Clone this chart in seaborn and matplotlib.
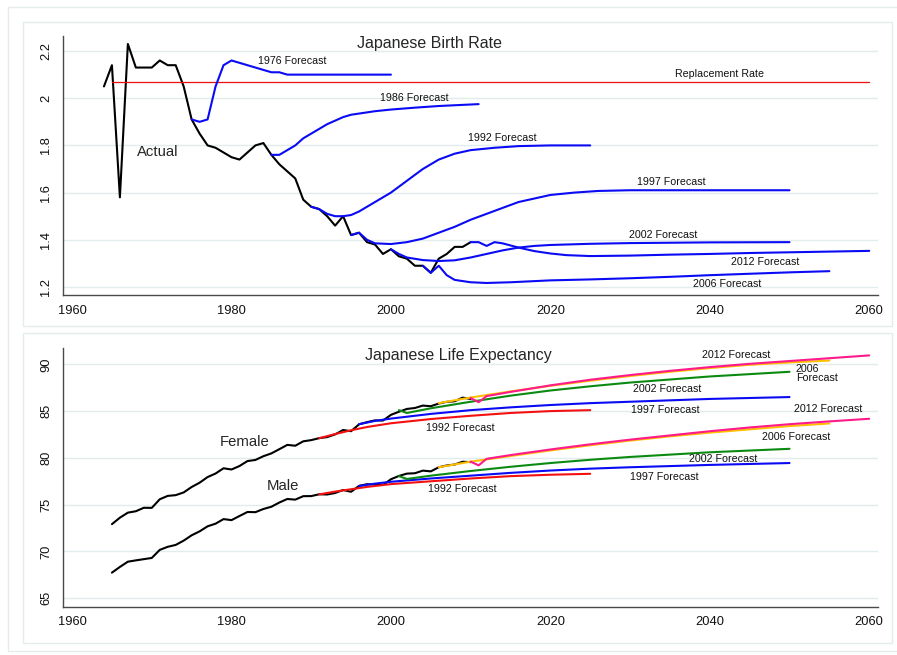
import matplotlib
matplotlib.use("Agg")
import matplotlib.pyplot as plt
from matplotlib.patches import Rectangle
import pandas as pd
import seaborn as sns

sns.set_style("white")
plt.rcParams["font.family"] = ["Liberation Sans", "DejaVu Sans"]

# ---------------- Birth rate (total fertility rate) ----------------
tfr_years = list(range(1964, 2011))
tfr_actual = [2.05, 2.14, 1.58, 2.23, 2.13, 2.13, 2.13, 2.16, 2.14, 2.14,
              2.05, 1.91, 1.85, 1.80, 1.79, 1.77, 1.75, 1.74, 1.77, 1.80,
              1.81, 1.76, 1.72, 1.69, 1.66, 1.57, 1.54, 1.53, 1.50, 1.46,
              1.50, 1.42, 1.43, 1.39, 1.38, 1.34, 1.36, 1.33, 1.32, 1.29,
              1.29, 1.26, 1.32, 1.34, 1.37, 1.37, 1.39]

replacement_years = [1965, 2060]
replacement_rate = [2.07, 2.07]

f1976_years = [1975, 1976, 1977, 1978, 1979, 1980, 1981, 1982, 1983, 1984,
               1985, 1986, 1987, 1990, 1995, 2000]
f1976 = [1.91, 1.90, 1.91, 2.05, 2.14, 2.16, 2.15, 2.14, 2.13, 2.12,
         2.11, 2.11, 2.10, 2.10, 2.10, 2.10]

f1986_years = [1985, 1986, 1987, 1988, 1989, 1990, 1991, 1992, 1993, 1994,
               1995, 1996, 1998, 2000, 2003, 2006, 2011]
f1986 = [1.76, 1.76, 1.78, 1.80, 1.83, 1.85, 1.87, 1.89, 1.905, 1.92,
         1.93, 1.935, 1.945, 1.952, 1.96, 1.967, 1.975]

f1992_years = [1990, 1991, 1992, 1993, 1994, 1995, 1996, 1997, 1998, 1999,
               2000, 2002, 2004, 2006, 2008, 2010, 2013, 2016, 2020, 2025]
f1992 = [1.54, 1.53, 1.51, 1.50, 1.50, 1.505, 1.52, 1.54, 1.56, 1.58,
         1.60, 1.65, 1.70, 1.74, 1.765, 1.78, 1.79, 1.797, 1.80, 1.80]

f1997_years = [1995, 1996, 1997, 1998, 2000, 2002, 2004, 2006, 2008, 2010,
               2012, 2014, 2016, 2018, 2020, 2023, 2026, 2030, 2040, 2050]
f1997 = [1.42, 1.43, 1.40, 1.385, 1.382, 1.39, 1.405, 1.43, 1.455, 1.485,
         1.51, 1.535, 1.56, 1.575, 1.59, 1.60, 1.607, 1.61, 1.61, 1.61]

f2002_years = [2000, 2001, 2002, 2004, 2006, 2008, 2010, 2012, 2014, 2016,
               2018, 2020, 2025, 2030, 2040, 2050]
f2002 = [1.36, 1.34, 1.325, 1.314, 1.31, 1.313, 1.325, 1.34, 1.355, 1.367,
         1.374, 1.378, 1.383, 1.386, 1.389, 1.39]

f2006_years = [2004, 2005, 2006, 2007, 2008, 2010, 2012, 2015, 2020, 2025,
               2030, 2035, 2040, 2045, 2050, 2055]
f2006 = [1.29, 1.26, 1.29, 1.25, 1.23, 1.22, 1.217, 1.22, 1.228, 1.232,
         1.237, 1.243, 1.25, 1.256, 1.262, 1.267]

f2012_years = [2010, 2011, 2012, 2013, 2014, 2016, 2018, 2020, 2022, 2025,
               2030, 2035, 2040, 2045, 2050, 2055, 2060]
f2012 = [1.39, 1.39, 1.374, 1.39, 1.385, 1.367, 1.352, 1.342, 1.335, 1.331,
         1.333, 1.337, 1.34, 1.344, 1.347, 1.35, 1.353]

# ---------------- Life expectancy ----------------
le_years = list(range(1965, 2011))
le_female = [72.92, 73.61, 74.15, 74.30, 74.67, 74.66, 75.58, 75.94, 76.02, 76.31,
             76.89, 77.35, 77.95, 78.33, 78.89, 78.76, 79.13, 79.66, 79.78, 80.18,
             80.48, 80.93, 81.39, 81.30, 81.77, 81.90, 82.11, 82.22, 82.51, 82.98,
             82.85, 83.59, 83.82, 84.01, 83.99, 84.60, 84.93, 85.23, 85.33, 85.59,
             85.52, 85.81, 85.99, 86.05, 86.44, 86.30]
le_male = [67.74, 68.35, 68.91, 69.05, 69.18, 69.31, 70.17, 70.50, 70.70, 71.16,
           71.73, 72.15, 72.69, 72.97, 73.46, 73.35, 73.79, 74.22, 74.20, 74.54,
           74.78, 75.23, 75.61, 75.54, 75.91, 75.92, 76.11, 76.09, 76.25, 76.57,
           76.38, 77.01, 77.19, 77.16, 77.10, 77.72, 78.07, 78.32, 78.36, 78.64,
           78.56, 79.00, 79.19, 79.29, 79.59, 79.55]

le92_years = [1991, 1993, 1995, 1997, 2000, 2005, 2010, 2015, 2020, 2025]
le92_female = [82.1, 82.55, 82.95, 83.3, 83.7, 84.15, 84.5, 84.8, 85.0, 85.1]
le92_male = [76.1, 76.4, 76.65, 76.9, 77.2, 77.5, 77.8, 78.05, 78.2, 78.3]

le97_years = [1996, 1998, 2000, 2005, 2010, 2015, 2020, 2025, 2030, 2040, 2050]
le97_female = [83.6, 83.95, 84.2, 84.7, 85.1, 85.4, 85.65, 85.85, 86.0, 86.3, 86.5]
le97_male = [77.0, 77.25, 77.45, 77.8, 78.1, 78.4, 78.65, 78.85, 79.0, 79.25, 79.45]

le02_years = [2001, 2002, 2005, 2010, 2015, 2020, 2025, 2030, 2040, 2050]
le02_female = [85.1, 84.8, 85.3, 86.0, 86.65, 87.2, 87.65, 88.05, 88.7, 89.2]
le02_male = [78.05, 77.75, 78.1, 78.6, 79.05, 79.45, 79.8, 80.1, 80.6, 80.97]

le06_years = [2006, 2008, 2010, 2015, 2020, 2025, 2030, 2035, 2040, 2045, 2050, 2055]
le06_female = [85.85, 86.15, 86.45, 87.1, 87.7, 88.25, 88.75, 89.2, 89.6, 89.95, 90.2, 90.4]
le06_male = [79.0, 79.3, 79.6, 80.2, 80.8, 81.35, 81.85, 82.3, 82.7, 83.05, 83.4, 83.68]

le12_years = [2010, 2011, 2012, 2015, 2020, 2025, 2030, 2035, 2040, 2045, 2050, 2055, 2060]
le12_female = [86.4, 85.95, 86.6, 87.05, 87.75, 88.35, 88.85, 89.3, 89.7, 90.05, 90.35, 90.65, 90.95]
le12_male = [79.6, 79.2, 79.9, 80.3, 80.9, 81.45, 81.95, 82.4, 82.85, 83.25, 83.6, 83.9, 84.18]

x_ticks = [1960, 1980, 2000, 2020, 2040, 2060]

W, H = 897, 655
fig = plt.figure(figsize=(W / 100, H / 100), dpi=100)
fig.patch.set_facecolor("white")

frame_col = "#e4ecee"
fig.add_artist(Rectangle((8 / W, 1 - 651 / H), (905 - 8) / W, (651 - 7) / H,
                         transform=fig.transFigure, fill=False, ec=frame_col, lw=1))
fig.add_artist(Rectangle((23 / W, 1 - 326 / H), (892 - 23) / W, (326 - 22) / H,
                         transform=fig.transFigure, fill=False, ec=frame_col, lw=1))
fig.add_artist(Rectangle((23 / W, 1 - 643 / H), (892 - 23) / W, (643 - 333) / H,
                         transform=fig.transFigure, fill=False, ec=frame_col, lw=1))

ax1 = fig.add_axes([63.3 / W, 1 - 295 / H, (878 - 63.3) / W, (295 - 35.7) / H])
ax2 = fig.add_axes([63.3 / W, 1 - 606.7 / H, (878 - 63.3) / W, (606.7 - 348.3) / H])


def draw(ax, xs, ys, color, lw=1.5):
    df = pd.DataFrame({"year": xs, "value": ys})
    sns.lineplot(data=df, x="year", y="value", ax=ax, color=color,
                 linewidth=lw, errorbar=None, legend=False)


def style(ax, yticks, ylabels, ylim):
    ax.set_xlim(1958.9, 2061.1)
    ax.set_ylim(*ylim)
    ax.set_xticks(x_ticks)
    ax.set_xticklabels([str(t) for t in x_ticks], fontsize=9.3)
    ax.set_yticks(yticks)
    ax.set_yticklabels(ylabels, fontsize=9.3, rotation=90, va="center")
    ax.set_xlabel("")
    ax.set_ylabel("")
    ax.yaxis.grid(True, color="#e2ebed", lw=1)
    ax.xaxis.grid(False)
    ax.set_axisbelow(True)
    for s in ("top", "right"):
        ax.spines[s].set_visible(False)
    for s in ("left", "bottom"):
        ax.spines[s].set_color("#4a4a4a")
        ax.spines[s].set_linewidth(1.0)
    ax.tick_params(axis="both", direction="out", length=5, width=1,
                   color="#4a4a4a", labelcolor="#111111")
    ax.tick_params(axis="x", pad=2)
    ax.tick_params(axis="y", pad=3)
    ax.set_facecolor("white")


# ---- top panel: birth rate ----
draw(ax1, tfr_years, tfr_actual, "black")
draw(ax1, replacement_years, replacement_rate, "#e8100c", lw=0.9)
blue = "#0a0af5"
for yrs, vals in [(f1976_years, f1976), (f1986_years, f1986), (f1992_years, f1992),
                  (f1997_years, f1997), (f2002_years, f2002), (f2006_years, f2006),
                  (f2012_years, f2012)]:
    draw(ax1, yrs, vals, blue)

style(ax1, [1.2, 1.4, 1.6, 1.8, 2.0, 2.2], ["1.2", "1.4", "1.6", "1.8", "2", "2.2"],
      (1.166, 2.265))

small = 7.7
ax1.text(2004.9, 2.234, "Japanese Birth Rate", fontsize=11.5, ha="center", va="center")
ax1.text(1970.7, 1.772, "Actual", fontsize=10.7, ha="center", va="center")
for x, y, s in [(1987.6, 2.158, "1976 Forecast"), (2041.2, 2.103, "Replacement Rate"),
                (2002.9, 2.001, "1986 Forecast"), (2014.0, 1.831, "1992 Forecast"),
                (2035.2, 1.645, "1997 Forecast"), (2034.2, 1.420, "2002 Forecast"),
                (2047.0, 1.306, "2012 Forecast"), (2042.2, 1.213, "2006 Forecast")]:
    ax1.text(x, y, s, fontsize=small, ha="center", va="center", color="#111111")

# ---- bottom panel: life expectancy ----
draw(ax2, le_years, le_female, "black")
draw(ax2, le_years, le_male, "black")
forecast_sets = [
    ("#f41010", le92_years, le92_female, le92_male),
    ("#0a0af5", le97_years, le97_female, le97_male),
    ("#0b8a12", le02_years, le02_female, le02_male),
    ("#ffbf00", le06_years, le06_female, le06_male),
    ("#ff1a8c", le12_years, le12_female, le12_male),
]
for color, yrs, fem, mal in forecast_sets:
    draw(ax2, yrs, fem, color)
    draw(ax2, yrs, mal, color)

style(ax2, [65, 70, 75, 80, 85, 90], ["65", "70", "75", "80", "85", "90"], (64.1, 91.71))

ax2.text(2008.4, 90.91, "Japanese Life Expectancy", fontsize=11.5, ha="center", va="center")
ax2.text(1981.6, 81.72, "Female", fontsize=10.7, ha="center", va="center")
ax2.text(1986.5, 77.02, "Male", fontsize=10.7, ha="center", va="center")
for x, y, s in [(2008.7, 83.22, "1992 Forecast"), (2008.9, 76.70, "1992 Forecast"),
                (2034.4, 85.14, "1997 Forecast"), (2034.3, 77.98, "1997 Forecast"),
                (2034.7, 87.38, "2002 Forecast"), (2041.7, 79.90, "2002 Forecast"),
                (2050.8, 82.25, "2006 Forecast"),
                (2043.3, 91.01, "2012 Forecast"), (2054.9, 85.25, "2012 Forecast")]:
    ax2.text(x, y, s, fontsize=small, ha="center", va="center", color="#111111")
ax2.text(2050.8, 89.04, "2006\nForecast", fontsize=small, ha="left", va="center",
         linespacing=0.85, color="#111111")

fig.savefig("out.png", dpi=100, facecolor="white")
